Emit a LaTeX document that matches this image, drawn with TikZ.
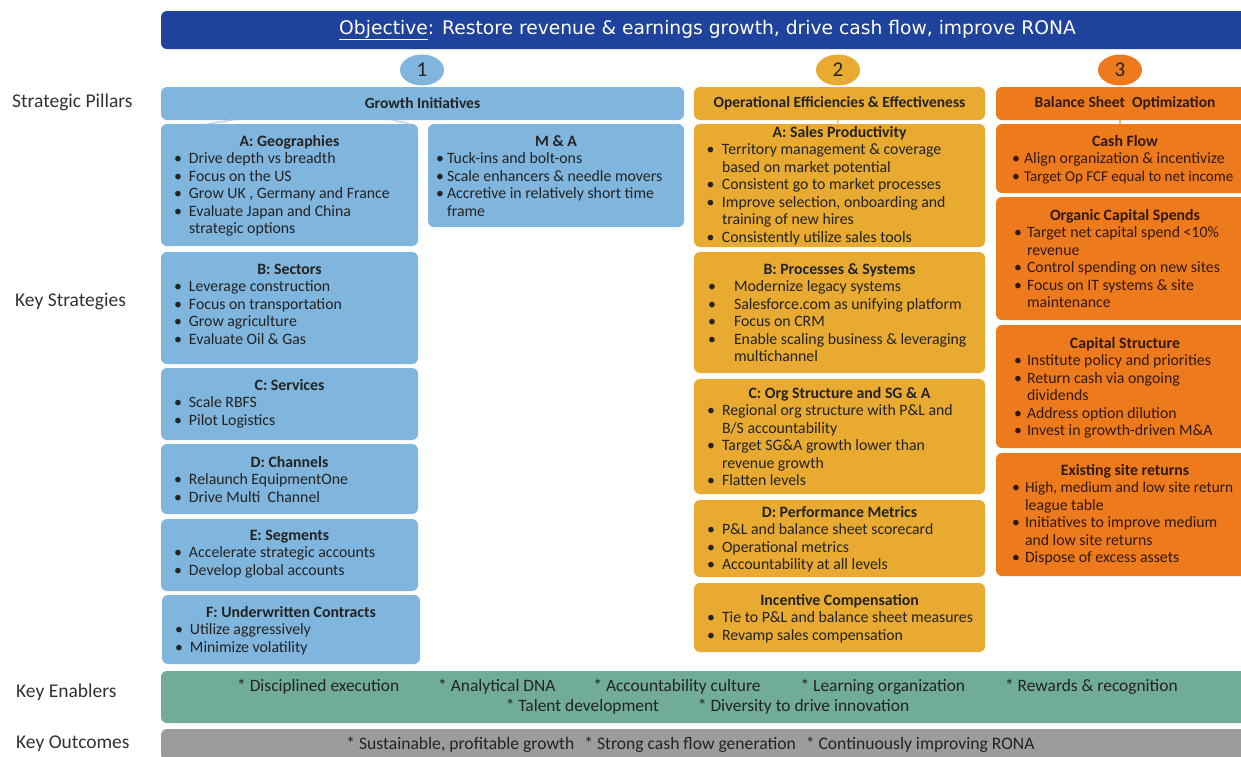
\documentclass[tikz,border=0pt]{standalone}
\usepackage{fontspec}
\setmainfont{Carlito}
\newfontfamily\banfont{DejaVu Sans}
\usetikzlibrary{shapes.geometric}
\definecolor{ban}{RGB}{31,66,156}
\definecolor{lb}{RGB}{128,181,221}
\definecolor{gd}{RGB}{232,170,48}
\definecolor{orn}{RGB}{238,122,30}
\definecolor{tl}{RGB}{112,172,152}
\definecolor{gry}{RGB}{156,156,156}
\definecolor{txt}{RGB}{35,35,35}
\definecolor{otxt}{RGB}{50,25,8}
\definecolor{lbl}{RGB}{50,50,50}
\newlength\tind \newlength\bind
\newcommand\itm[1]{\par\noindent\hangindent=\tind\hangafter=1\makebox[\tind][l]{\hspace{\bind}\textbullet}#1\par}
\newcommand\ttl[2]{{\centering\rule{0pt}{#1pt}\textbf{#2}\par}}
\newcommand\bxc[5]{\parbox[t][#1pt][t]{#2pt}{\fontsize{15.8}{17.5}\selectfont\raggedright\setlength\tind{#3pt}\setlength\bind{#4pt}#5}}
\tikzset{
  cbox/.style={inner sep=0pt, outer sep=0pt, anchor=north west, rounded corners=6pt, text=txt},
  bluebox/.style={cbox, fill=lb},
  goldbox/.style={cbox, fill=gd},
  orbox/.style={cbox, fill=orn, text=otxt},
  hdr/.style={inner sep=0pt, outer sep=0pt, rounded corners=6pt, minimum height=33pt, text=txt, font=\fontsize{15.5}{17}\selectfont\bfseries},
  num/.style={ellipse, inner sep=0pt, minimum width=44pt, minimum height=31pt, text=txt, font=\fontsize{21}{21}\selectfont},
  band/.style={inner sep=0pt, rounded corners=6pt, minimum width=1093pt},
  sidelbl/.style={anchor=west, inner sep=0pt, text=lbl, font=\fontsize{19.5}{20}\selectfont},
  conn/.style={line width=1.5pt}
}
\begin{document}
\begin{tikzpicture}[x=1pt,y=-1pt]
\useasboundingbox (0,0) rectangle (1241,756);
% objective banner
\node[band, fill=ban, minimum height=38pt, text=white, font=\banfont\fontsize{18.7}{20}\selectfont] (obj) at (707.5,30) {\underline{Objective}: Restore revenue \& earnings growth, drive cash flow, improve RONA};
% numbers
\node[num, fill=lb] (n1) at (422,70) {1};
\node[num, fill=gd] (n2) at (838,70) {2};
\node[num, fill=orn] (n3) at (1120,70) {3};
% side labels
\node[sidelbl] (lp) at (12,102) {Strategic Pillars};
\node[sidelbl] (lk) at (15,301) {Key Strategies};
\node[sidelbl] (le) at (16,692) {Key Enablers};
\node[sidelbl] (lo) at (16,744) {Key Outcomes};
% headers
\node[hdr, fill=lb, minimum width=523pt] (gi) at (422.5,103.5) {Growth Initiatives};
\node[hdr, fill=gd, minimum width=291pt] (oe) at (839.5,103.5) {Operational Efficiencies \& Effectiveness};
\node[hdr, fill=orn, text=otxt, minimum width=258pt] (bs) at (1125,103.5) {Balance Sheet\ \ Optimization};
% left column
\node[bluebox] (geo) at (161,124) {\bxc{122}{257}{28}{13}{\ttl{22}{A: Geographies}
 \itm{Drive depth vs breadth}\itm{Focus on the US}\itm{Grow UK , Germany and France}\itm{Evaluate Japan and China\newline strategic options}}};
\node[bluebox] (ma) at (428,124) {\bxc{103}{256}{19}{8}{\ttl{22}{M \& A}
 \itm{Tuck-ins and bolt-ons}\itm{Scale enhancers \& needle movers}\itm{Accretive in relatively short time\newline frame}}};
\node[bluebox] (se) at (161,252) {\bxc{112}{257}{28}{13}{\ttl{22}{B: Sectors}
 \itm{Leverage construction}\itm{Focus on transportation}\itm{Grow agriculture}\itm{Evaluate Oil \& Gas}}};
\node[bluebox] (sv) at (161,368) {\bxc{72}{257}{28}{13}{\ttl{22}{C: Services}
 \itm{Scale RBFS}\itm{Pilot Logistics}}};
\node[bluebox] (ch) at (161,444) {\bxc{70}{257}{28}{13}{\ttl{23}{D: Channels}
 \itm{Relaunch EquipmentOne}\itm{Drive Multi\ \ Channel}}};
\node[bluebox] (sg) at (161,519) {\bxc{72}{257}{28}{13}{\ttl{21}{E: Segments}
 \itm{Accelerate strategic accounts}\itm{Develop global accounts}}};
\node[bluebox] (uc) at (162,595) {\bxc{69}{258}{28}{13}{\ttl{22}{F: Underwritten Contracts}
 \itm{Utilize aggressively}\itm{Minimize volatility}}};
% middle column
\node[goldbox] (sa) at (694,124) {\bxc{123}{291}{28}{12.5}{\ttl{13}{A: Sales Productivity}
 \itm{Territory management \& coverage\newline based on market potential}\itm{Consistent go to market processes}\itm{Improve selection, onboarding and\newline training of new hires}\itm{Consistently utilize sales tools}}};
\node[goldbox] (ps) at (694,252) {\bxc{121}{291}{40}{14}{\ttl{22}{B: Processes \& Systems}
 \itm{Modernize legacy systems}\itm{Salesforce.com as unifying platform}\itm{Focus on CRM}\itm{Enable scaling business \& leveraging\newline multichannel}}};
\node[goldbox] (os) at (694,379) {\bxc{115}{291}{28}{13}{\ttl{19}{C: Org Structure and SG \& A}
 \itm{Regional org structure with P\&L and\newline B/S accountability}\itm{Target SG\&A growth lower than\newline revenue growth}\itm{Flatten levels}}};
\node[goldbox] (pm) at (694,500) {\bxc{77}{291}{28}{13}{\ttl{17}{D: Performance Metrics}
 \itm{P\&L and balance sheet scorecard}\itm{Operational metrics}\itm{Accountability at all levels}}};
\node[goldbox] (ic) at (694,583) {\bxc{69}{291}{28}{13}{\ttl{22}{Incentive Compensation}
 \itm{Tie to P\&L and balance sheet measures}\itm{Revamp sales compensation}}};
% right column
\node[orbox] (cf) at (996,124) {\bxc{69}{258}{28}{16}{\ttl{22}{Cash Flow}
 \itm{Align organization \& incentivize}\itm{{\fontsize{15}{17.5}\selectfont Target Op FCF equal to net income}}}};
\node[orbox] (oc) at (996,197) {\bxc{123}{258}{31}{18}{\ttl{23}{Organic Capital Spends}
 \itm{Target net capital spend <10\%\newline revenue}\itm{Control spending on new sites}\itm{Focus on IT systems \& site\newline maintenance}}};
\node[orbox] (cs) at (996,325) {\bxc{123}{258}{31}{18}{\ttl{23}{Capital Structure}
 \itm{Institute policy and priorities}\itm{Return cash via ongoing\newline dividends}\itm{Address option dilution}\itm{Invest in growth-driven M\&A}}};
\node[orbox] (es) at (996,453) {\bxc{123}{258}{29}{16}{\ttl{22}{Existing site returns}
 \itm{{\fontsize{15.3}{17.5}\selectfont High, medium and low site return}\newline league table}\itm{Initiatives to improve medium\newline and low site returns}\itm{Dispose of excess assets}}};
% bottom bands
\node[band, fill=tl, minimum height=52pt, text=txt, align=center, font=\fontsize{17.4}{20}\selectfont] (ke) at (707.5,697)
 {* Disciplined execution\hspace{39pt}* Analytical DNA\hspace{38pt}* Accountability culture\hspace{40pt}* Learning organization\hspace{40pt}* Rewards \& recognition\\[0pt]* Talent development\hspace{39pt}* Diversity to drive innovation};
\node[band, fill=gry, minimum height=31pt, text=txt, font=\fontsize{17.6}{20}\selectfont] (ko) at (707.5,744.5)
 {* Sustainable, profitable growth\hspace{10pt}* Strong cash flow generation\hspace{10pt}* Continuously improving RONA\hspace{34pt}\null};
% connectors
\draw[conn, draw=lb!55!white] ([xshift=-189.5pt]gi.south) -- ([xshift=-82.5pt]geo.north);
\draw[conn, draw=lb!55!white] ([xshift=-29.5pt]gi.south) -- ([xshift=-146pt]ma.north);
\draw[conn, draw=gd!55!white] ([xshift=-1.5pt]oe.south) -- ([xshift=-1.5pt]sa.north);
\draw[conn, draw=orn!55!white] ([xshift=-5pt]bs.south) -- ([xshift=-5pt]cf.north);
\end{tikzpicture}
\end{document}
